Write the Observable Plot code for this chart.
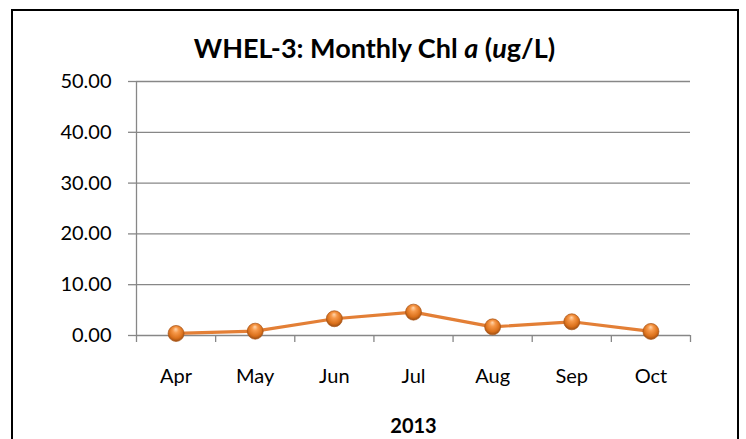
<!DOCTYPE html>
<html>
<head>
<meta charset="utf-8">
<script src="https://cdn.jsdelivr.net/npm/d3@7"></script>
<script src="https://cdn.jsdelivr.net/npm/@observablehq/plot@0.6"></script>
<style>
  html, body { margin: 0; padding: 0; background: #fff; }
  #wrap { position: relative; width: 746px; height: 439px; overflow: hidden; background: #fff; }
  #frame { position: absolute; left: 11px; top: 9px; width: 728px; height: 450px; border: 2px solid #000; box-sizing: border-box; pointer-events: none; }
  #title { position: absolute; left: 0; width: 749px; top: 31px; text-align: center; font-family: Lato, "Open Sans", sans-serif; font-weight: bold; font-size: 27px; line-height: 34px; color: #000; }
  #chart { position: absolute; left: 0; top: 0; }
</style>
</head>
<body>
<div id="wrap">
  <div id="chart"></div>
  <div id="title">WHEL-3: Monthly Chl <i>a</i> (<i>u</i>g/L)</div>
  <div id="frame"></div>
</div>
<script>
const months = ["Apr", "May", "Jun", "Jul", "Aug", "Sep", "Oct"];
const chla = [0.4, 0.85, 3.3, 4.6, 1.7, 2.7, 0.8];
const yTicks = [0, 10, 20, 30, 40, 50];
const xLabel = "2013";

const data = months.map((m, i) => ({month: m, pos: i + 0.5, value: chla[i]}));
const boundaries = d3.range(0, months.length + 1);

const font = "Lato, 'Open Sans', sans-serif";

const plot = Plot.plot({
  width: 746,
  height: 439,
  marginLeft: 136,
  marginRight: 56,
  marginTop: 81,
  marginBottom: 104,
  style: {fontFamily: font, fontSize: "20px", color: "#000", background: "transparent"},
  x: {domain: [0, months.length], axis: null},
  y: {domain: [0, 50], axis: null},
  marks: [
    Plot.gridY(yTicks.filter(d => d > 0), {stroke: "#878787", strokeOpacity: 1, strokeWidth: 1.3}),
    Plot.ruleY([0], {stroke: "#878787", strokeWidth: 1.3}),
    Plot.ruleX([0], {stroke: "#878787", strokeWidth: 1.3}),
    Plot.axisY({ticks: yTicks, tickFormat: d3.format(".2f"), tickSize: 8, tickPadding: 17, stroke: "#878787", strokeWidth: 1.3, fill: "#000", fontSize: 20, label: null}),
    Plot.axisX({ticks: boundaries, tickFormat: () => "", tickSize: 7, tickPadding: 0, stroke: "#878787", strokeWidth: 1.3, label: null}),
    Plot.axisX({ticks: data.map(d => d.pos), tickFormat: (d, i) => months[i], tickSize: 0, tickPadding: 33, fill: "#000", fontSize: 20, label: null}),
    Plot.text([xLabel], {frameAnchor: "bottom", dy: 91, text: d => d, fontWeight: "bold", fontSize: 20, fill: "#000", lineAnchor: "middle"}),
    Plot.line(data, {x: "pos", y: "value", stroke: "#E37F36", strokeWidth: 3.2}),
    Plot.dot(data, {x: "pos", y: "value", r: 8, fill: "url(#sphere)", stroke: "#A9561A", strokeWidth: 0.7})
  ]
});

const svgNS = "http://www.w3.org/2000/svg";
const defs = document.createElementNS(svgNS, "defs");
defs.innerHTML = `
  <radialGradient id="sphere" cx="50%" cy="45%" r="60%" fx="48%" fy="22%">
    <stop offset="0%" stop-color="#FFD6AE"/>
    <stop offset="30%" stop-color="#F7994A"/>
    <stop offset="70%" stop-color="#DB711C"/>
    <stop offset="100%" stop-color="#8E450F"/>
  </radialGradient>`;
plot.insertBefore(defs, plot.firstChild);
document.getElementById("chart").appendChild(plot);
</script>
</body>
</html>
